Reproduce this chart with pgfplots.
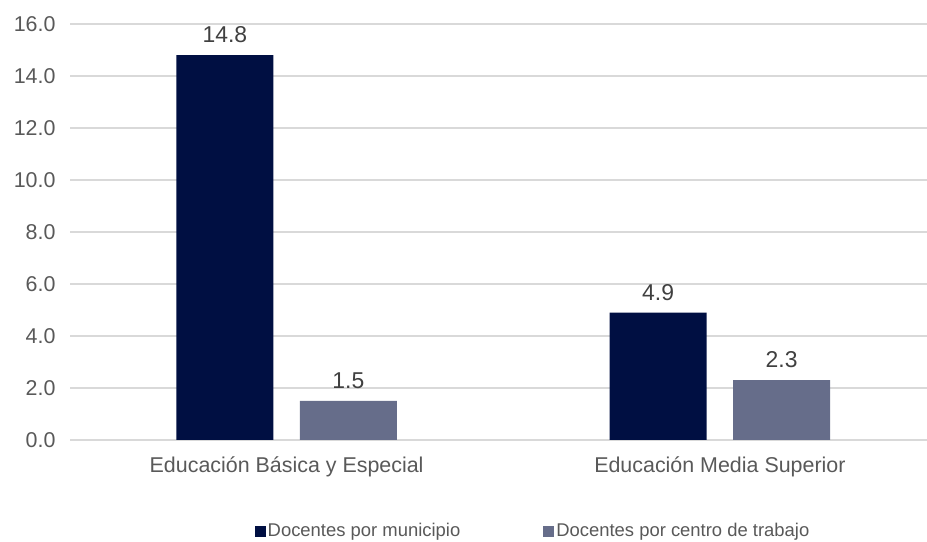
\documentclass[border=0pt]{standalone}
\usepackage{fontspec}
\setmainfont{Liberation Sans}
\usepackage{pgfplots}
\pgfplotsset{compat=1.18}
\definecolor{navy}{HTML}{000F42}
\definecolor{slate}{HTML}{666D8A}
\definecolor{gridc}{HTML}{D9D9D9}
\definecolor{tickc}{HTML}{595959}
\definecolor{labc}{HTML}{404040}
\begin{document}
\begin{tikzpicture}
\path[use as bounding box] (0,0) rectangle (927bp,542bp);
\begin{axis}[
  at={(70bp,102bp)}, anchor=south west,
  scale only axis, width=857bp, height=416bp,
  xmin=-0.5, xmax=1.478, ymin=0, ymax=16,
  ybar=26.5bp, bar width=97bp,
  axis line style={draw=none}, tick style={draw=none},
  ytick={0,2,...,16},
  ymajorgrids, grid style={gridc, line width=1.2bp},
  xtick={0,1},
  xticklabels={Educación Básica y Especial, Educación Media Superior},
  /pgf/number format/assume math mode=true,
  yticklabel style={/pgf/number format/fixed, /pgf/number format/fixed zerofill, /pgf/number format/precision=1, xshift=-11bp},
  ticklabel style={font=\fontsize{21.5}{26}\selectfont, text=tickc},
  xticklabel style={yshift=-9bp},
  legend style={at={(0.5403,-0.2188)}, anchor=center, draw=none,
    font=\fontsize{18.5}{22}\selectfont, text=tickc,
    /tikz/every even column/.append style={column sep=81bp},
    nodes={inner xsep=2bp}},
  legend columns=2,
  legend image code/.code={\fill[#1] (0bp,-5.5bp) rectangle (11bp,5.5bp);},
  nodes near coords,
  every node near coord/.append style={font=\fontsize{23}{27}\selectfont, text=labc, yshift=8.5bp,
    /pgf/number format/fixed, /pgf/number format/fixed zerofill, /pgf/number format/precision=1},
]
\addplot[fill=navy, draw=none]
  coordinates {(0,14.8) (1,4.9)};
\addplot[fill=slate, draw=none]
  coordinates {(0,1.5) (1,2.3)};
\legend{Docentes por municipio, Docentes por centro de trabajo}
\end{axis}
\end{tikzpicture}
\end{document}
